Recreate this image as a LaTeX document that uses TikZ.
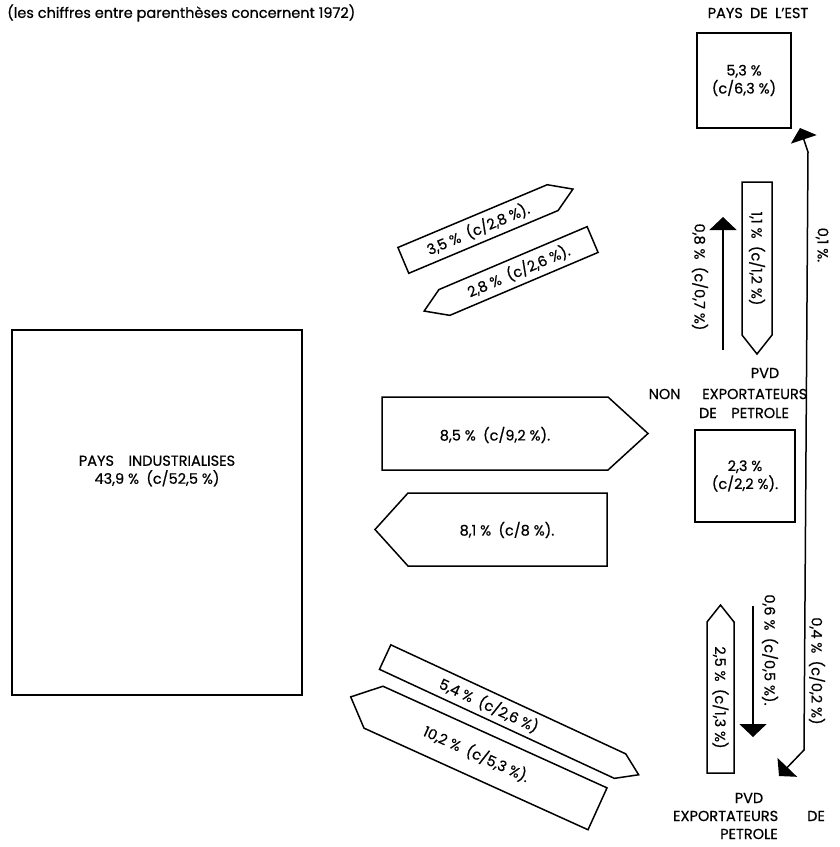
\documentclass[tikz,border=0pt]{standalone}
\usepackage{fontspec}
\setmainfont{Poppins}[FakeBold=0.6]
\usetikzlibrary{arrows.meta}

\begin{document}
\begin{tikzpicture}[x=1pt, y=-1pt,
    every node/.style={font=\fontsize{14.5}{18}\selectfont, inner sep=1pt, align=center},
    box/.style={draw=black, line width=1.5pt},
    flux/.style={draw=black, line width=1.5pt, line join=miter},
    thin/.style={line width=1.5pt, -{Triangle[width=27pt,length=13pt]}}
]
\useasboundingbox (0,0) rectangle (840,847);

% blocs
\node[box, minimum width=94pt, minimum height=95pt] (est) at (744,80.5) {5,3 \%\\(c/6,3 \%)};
\node[box, minimum width=100pt, minimum height=92pt] (pvdnebox) at (745,476) {2,3 \%\\(c/2,2 \%).};
\node[box, minimum width=290pt, minimum height=365pt] (pi) at (157,512.5) {};
\node (pitxt) at (157,471) {PAYS\quad INDUSTRIALISES\\43,9 \%\enspace(c/52,5 \%)};

% titres
\node[anchor=west] (titre) at (6,13) {(les chiffres entre parenthèses concernent 1972)};
\node (estlbl) at (758,13) {PAYS\enspace DE\enspace L'EST};
\node (pvdne1) at (765,373) {PVD};
\node (pvdne2) at (728,394) {NON\quad\enspace EXPORTATEURS};
\node (pvdne3) at (744,413) {DE\quad PETROLE};
\node (pvde) at (749,816) {PVD\\EXPORTATEURS\qquad DE\\PETROLE};

% flux horizontaux
\draw[flux] (382,397) -- (608,397) -- (648,433.5) -- (608,470) -- (382,470) -- cycle;
\node (f85) at (495,435) {8,5 \%\enspace(c/9,2 \%).};
\draw[flux] (607,493) -- (408,493) -- (375,529.5) -- (408,566) -- (607,566) -- cycle;
\node (f81) at (507,530) {8,1 \%\enspace(c/8 \%).};

% flux obliques
\begin{scope}[shift={(478,229)}, rotate=22.8]
  \draw[flux] (-81,-14) -- (81,-14) -- (103,0) -- (81,14) -- (-81,14) -- cycle;
  \node[rotate=22.8] (f35) at (0,0) {3,5 \%\enspace(c/2,8 \%).};
\end{scope}
\begin{scope}[shift={(518.5,271)}, rotate=23]
  \draw[flux] (80.5,-14) -- (-80.5,-14) -- (-102.5,0) -- (-80.5,14) -- (80.5,14) -- cycle;
  \node[rotate=23] (f28) at (0,0) {2,8 \%\enspace(c/2,6 \%).};
\end{scope}
\begin{scope}[shift={(502.6,711.6)}, rotate=-24.9]
  \draw[flux] (-129.5,-13.5) -- (115.5,-13.5) -- (129.5,-13.5) -- (150,0) -- (129.5,13.5) -- (-129.5,13.5) -- cycle;
  \node[rotate=-24.9] (f54) at (-15,0) {5,4 \%\enspace(c/2,6 \%)};
\end{scope}
\begin{scope}[shift={(485.5,758)}, rotate=-24.4]
  \draw[flux] (123,-23) -- (-123,-23) -- (-148,0) -- (-123,23) -- (123,23) -- cycle;
  \node[rotate=-24.4] (f102) at (-10,0) {10,2 \%\enspace(c/5,3 \%).};
\end{scope}

% flux verticaux
\begin{scope}[shift={(757,258.5)}, rotate=-90]
  \draw[flux] (-76.5,-15) -- (76.5,-15) -- (95.5,0) -- (76.5,15) -- (-76.5,15) -- cycle;
  \node[rotate=-90] (f11) at (0,0) {1,1 \%\enspace(c/1,2 \%)};
\end{scope}
\begin{scope}[shift={(720.5,697.5)}, rotate=-90]
  \draw[flux] (75.5,-13.5) -- (-75.5,-13.5) -- (-92.5,0) -- (-75.5,13.5) -- (75.5,13.5) -- cycle;
  \node[rotate=-90] (f25) at (0,0) {2,5 \%\enspace(c/1,3 \%)};
\end{scope}

% fleches fines
\coordinate (a08s) at (723,350);
\coordinate (a08e) at (723,217);
\draw[thin] (a08s) -- (a08e);
\node[rotate=-90] (l08) at (700,277) {0,8 \%\enspace(c/0,7 \%)};
\coordinate (a06s) at (753,606);
\coordinate (a06e) at (753,737);
\draw[thin] (a06s) -- (a06e);
\node[rotate=-90] (l06) at (770,650) {0,6 \%\enspace(c/0,5 \%).};

\coordinate (esttip) at (800,128);
\coordinate (haut) at (808,152);
\coordinate (bas) at (804,750);
\coordinate (pvdetip) at (779,776);
\draw[line width=1.5pt, {Triangle[width=27pt,length=12pt]}-{Triangle[width=27pt,length=12pt]}] (pvdetip) -- (bas) -- (haut) -- (esttip);
\node[rotate=-90] (l01) at (822,245) {0,1 \%.};
\node[rotate=-90] (l04) at (817,671) {0,4 \%\enspace(c/0,2 \%)};

\end{tikzpicture}
\end{document}
